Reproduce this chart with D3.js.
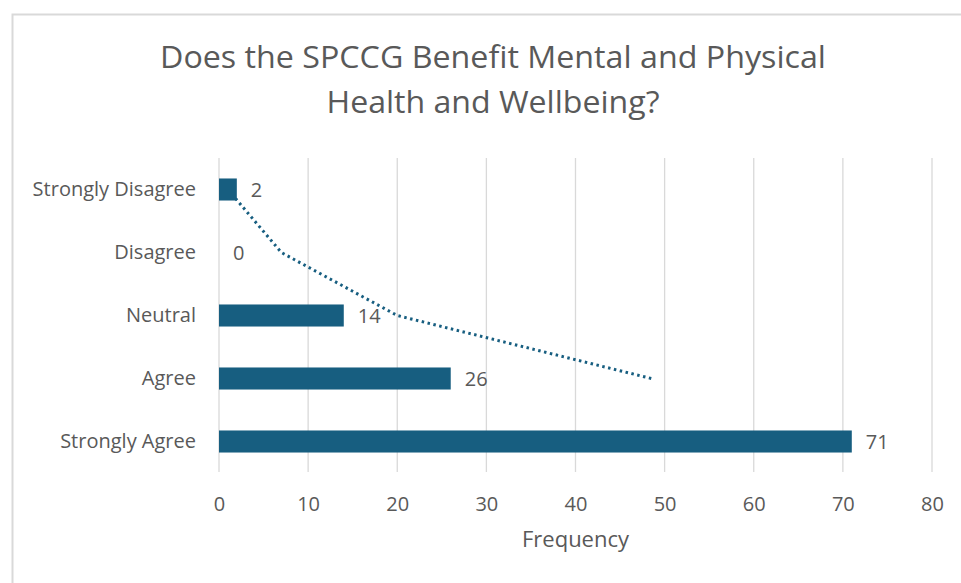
<!DOCTYPE html>
<html>
<head>
<meta charset="utf-8">
<script src="https://cdn.jsdelivr.net/npm/d3@7"></script>
<style>
  html, body { margin: 0; padding: 0; background: #fff; }
  svg { display: block; }
</style>
</head>
<body>
<div id="chart"></div>
<script>
// data, bottom to top as in the source sheet
const categories = ['Strongly Agree', 'Agree', 'Neutral', 'Disagree', 'Strongly Disagree'];
const frequencies = [71, 26, 14, 0, 2];
// 2-period moving average trendline (starts at second category)
const trendCategories = ['Agree', 'Neutral', 'Disagree', 'Strongly Disagree'];
const trendValues = [48.5, 20, 7, 1];
const xTicks = [0, 10, 20, 30, 40, 50, 60, 70, 80];
const titleLines = ['Does the SPCCG Benefit Mental and Physical', 'Health and Wellbeing?'];

const width = 961;
const height = 583;
const font = "'Open Sans', 'Noto Sans', sans-serif";
const textColor = '#595959';
const barColor = '#175e80';

const svg = d3.select('#chart')
  .append('svg')
  .attr('width', width)
  .attr('height', height);

// chart frame
svg.append('rect')
  .attr('x', 12.5)
  .attr('y', 14.5)
  .attr('width', 980)
  .attr('height', 600)
  .attr('fill', '#fff')
  .attr('stroke', '#d9d9d9')
  .attr('stroke-width', 2);

const x = d3.scaleLinear().domain([0, 80]).range([219, 932]);
const y = d3.scaleBand()
  .domain(categories.slice().reverse())
  .range([158, 473])
  .paddingInner(0.65)
  .paddingOuter(0.325);

// title
svg.append('g')
  .selectAll('text')
  .data(titleLines)
  .join('text')
  .attr('x', 493)
  .attr('y', (d, i) => 68 + i * 45)
  .attr('text-anchor', 'middle')
  .attr('font-family', font)
  .attr('font-size', 31)
  .attr('fill', textColor)
  .attr('textLength', (d, i) => i === 0 ? 666 : 333)
  .attr('lengthAdjust', 'spacingAndGlyphs')
  .text(d => d);

// gridlines
svg.append('g')
  .selectAll('line')
  .data(xTicks)
  .join('line')
  .attr('x1', d => x(d))
  .attr('x2', d => x(d))
  .attr('y1', 158)
  .attr('y2', 472)
  .attr('stroke', '#d9d9d9')
  .attr('stroke-width', 1.3);

// x axis labels
const xAxis = svg.append('g')
  .attr('transform', 'translate(0, 504)')
  .call(d3.axisBottom(x).tickValues(xTicks).tickSize(0).tickPadding(0));
xAxis.select('.domain').remove();
xAxis.selectAll('text')
  .attr('font-family', font)
  .attr('font-size', 20)
  .attr('fill', textColor)
  .attr('dy', '0.36em');

svg.append('text')
  .attr('x', x(40))
  .attr('y', 547)
  .attr('text-anchor', 'middle')
  .attr('font-family', font)
  .attr('font-size', 22)
  .attr('fill', textColor)
  .text('Frequency');

// y axis labels
const yAxis = svg.append('g')
  .attr('transform', 'translate(196, 0)')
  .call(d3.axisLeft(y).tickSize(0).tickPadding(0));
yAxis.select('.domain').remove();
yAxis.selectAll('text')
  .attr('font-family', font)
  .attr('font-size', 20)
  .attr('fill', textColor)
  .attr('dy', '0.34em');

// trendline (drawn beneath the bars)
const trend = d3.line()
  .x(d => x(d.v))
  .y(d => y(d.c) + y.bandwidth() / 2);

svg.append('path')
  .datum(trendCategories.map((c, i) => ({ c: c, v: trendValues[i] })))
  .attr('d', trend)
  .attr('fill', 'none')
  .attr('stroke', barColor)
  .attr('stroke-width', 3)
  .attr('stroke-dasharray', '2.5,3.5');

// bars
const rows = categories.map((c, i) => ({ c: c, v: frequencies[i] }));

svg.append('g')
  .selectAll('rect')
  .data(rows)
  .join('rect')
  .attr('x', x(0))
  .attr('y', d => y(d.c))
  .attr('width', d => x(d.v) - x(0))
  .attr('height', y.bandwidth())
  .attr('fill', barColor);

// value labels
svg.append('g')
  .selectAll('text')
  .data(rows)
  .join('text')
  .attr('x', d => x(d.v) + 14)
  .attr('y', d => y(d.c) + y.bandwidth() / 2)
  .attr('dy', '0.36em')
  .attr('font-family', font)
  .attr('font-size', 20)
  .attr('fill', textColor)
  .text(d => d.v);
</script>
</body>
</html>
